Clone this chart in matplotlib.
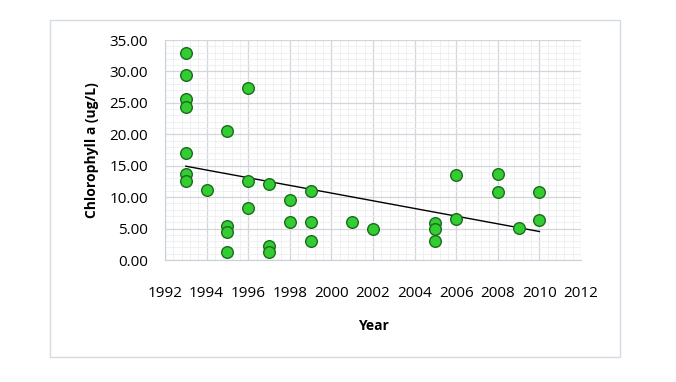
import numpy as np
import matplotlib.pyplot as plt
from matplotlib.patches import Rectangle
from matplotlib.ticker import MultipleLocator

years = [1993, 1993, 1993, 1993, 1993, 1993, 1993,
         1994,
         1995, 1995, 1995, 1995,
         1996, 1996, 1996,
         1997, 1997, 1997,
         1998, 1998,
         1999, 1999, 1999,
         2001, 2002,
         2005, 2005, 2005,
         2006, 2006,
         2008, 2008,
         2009,
         2010, 2010]
chl = [33.0, 29.4, 25.6, 24.4, 17.1, 13.7, 12.6,
       11.1,
       20.6, 5.4, 4.5, 1.2,
       27.3, 12.5, 8.3,
       12.1, 2.3, 1.2,
       9.6, 6.0,
       11.0, 6.0, 3.0,
       6.0, 5.0,
       5.9, 5.0, 3.0,
       13.6, 6.6,
       13.7, 10.8,
       5.1,
       10.8, 6.3]

plt.rcParams['font.family'] = ['Open Sans', 'DejaVu Sans']

fig = plt.figure(figsize=(6.76, 3.82), dpi=100)
fig.patches.append(Rectangle((50 / 676, 1 - 357 / 382), 570 / 676, 337 / 382,
                             transform=fig.transFigure, fill=False,
                             edgecolor='#d5dbe3', linewidth=1))

ax = fig.add_axes([165 / 676, 1 - 260 / 382, 416 / 676, 220 / 382])
ax.set_xlim(1992, 2012)
ax.set_ylim(0, 35)
ax.xaxis.set_major_locator(MultipleLocator(2))
ax.xaxis.set_minor_locator(MultipleLocator(0.4))
ax.yaxis.set_major_locator(MultipleLocator(5))
ax.yaxis.set_minor_locator(MultipleLocator(1))
ax.grid(which='major', color='#d3d6da', linewidth=0.9)
ax.grid(which='minor', color='#eceef0', linewidth=0.6)
ax.set_axisbelow(True)
for s in ['top', 'right']:
    ax.spines[s].set_visible(False)
ax.spines['left'].set_color('#c8d0da')
ax.spines['bottom'].set_color('#c8d0da')
ax.tick_params(which='both', length=0)
ax.tick_params(axis='x', pad=19, labelsize=11)
ax.tick_params(axis='y', pad=12, labelsize=11)
ax.yaxis.set_major_formatter(lambda v, p: '%.2f' % v)

ax.scatter(years, chl, s=70, color='#33cc33', edgecolor='#1a6b1a', linewidth=1, zorder=3)

# linear trendline
k, b = np.polyfit(years, chl, 1)
xt = np.array([min(years), max(years)])
ax.plot(xt, k * xt + b, color='black', linewidth=1, zorder=2)

ax.set_xlabel('Year', fontweight='bold', fontsize=10, labelpad=13)
ax.set_ylabel('Chlorophyll a (ug/L)', fontweight='bold', fontsize=10, labelpad=8)

plt.savefig('out.png')
